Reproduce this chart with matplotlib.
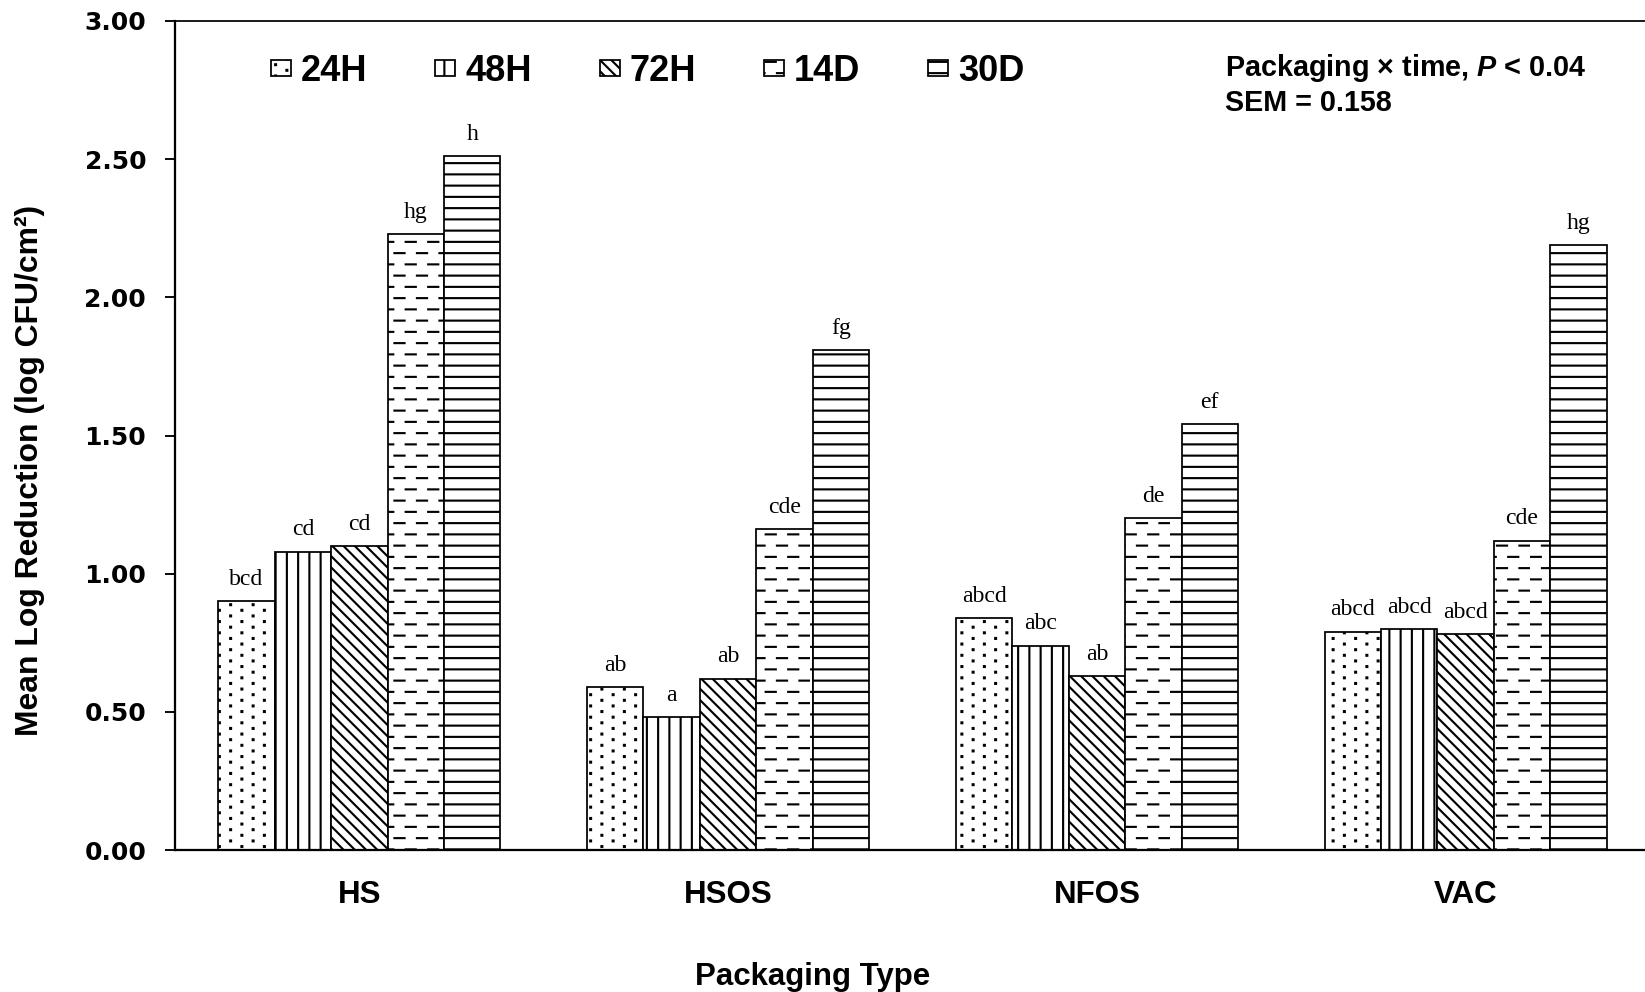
import warnings
import numpy as np
import matplotlib
matplotlib.use("Agg")
import matplotlib.pyplot as plt
from matplotlib import hatch as mhatch
from matplotlib.path import Path

warnings.filterwarnings("ignore", message=".*hatch must consist.*")

# data
packaging = ["HS", "HSOS", "NFOS", "VAC"]
times = ["24H", "48H", "72H", "14D", "30D"]
hs = [0.90, 1.08, 1.10, 2.23, 2.51]
hsos = [0.59, 0.48, 0.62, 1.16, 1.81]
nfos = [0.84, 0.74, 0.63, 1.20, 1.54]
vac = [0.79, 0.80, 0.78, 1.12, 2.19]
letters_hs = ["bcd", "cd", "cd", "hg", "h"]
letters_hsos = ["ab", "a", "ab", "cde", "fg"]
letters_nfos = ["abcd", "abc", "ab", "de", "ef"]
letters_vac = ["abcd", "abcd", "abcd", "cde", "hg"]
yticks = [0.0, 0.5, 1.0, 1.5, 2.0, 2.5, 3.0]


# extra hatch patterns: staggered dots (':') and staggered dashes ('_')
class DotRows(mhatch.HatchPatternBase):
    def __init__(self, hatch, density):
        self.rows = hatch.count(":") * density * 2
        self.cols = self.rows // 4
        self.num_vertices = self.rows * self.cols * 5

    def set_vertices_and_codes(self, vertices, codes):
        s = 0.005
        i = 0
        for r in range(self.rows):
            y = (r + 0.5) / self.rows
            shift = 0.5 if r % 2 else 0.0
            for c in range(self.cols):
                x = (c + shift + 0.25) / self.cols
                vertices[i:i + 5] = [[x - s, y - s], [x + s, y - s], [x + s, y + s],
                                     [x - s, y + s], [x - s, y - s]]
                codes[i:i + 5] = [Path.MOVETO, Path.LINETO, Path.LINETO,
                                  Path.LINETO, Path.CLOSEPOLY]
                i += 5


class DashRows(mhatch.HatchPatternBase):
    def __init__(self, hatch, density):
        self.rows = hatch.count("_") * density
        self.cols = self.rows // 2
        self.num_vertices = self.rows * self.cols * 2

    def set_vertices_and_codes(self, vertices, codes):
        dash = 0.45 / self.cols
        i = 0
        for r in range(self.rows):
            y = (r + 0.5) / self.rows
            shift = 0.5 if r % 2 else 0.0
            for c in range(self.cols):
                x0 = (c + shift + 0.03) / self.cols
                vertices[i] = [x0, y]
                vertices[i + 1] = [x0 + dash, y]
                codes[i] = Path.MOVETO
                codes[i + 1] = Path.LINETO
                i += 2


mhatch._hatch_types.extend([DotRows, DashRows])
_base_get_path = mhatch.get_path


def _get_path(pattern, density=6):
    return _base_get_path(pattern, 8)


mhatch.get_path = _get_path

plt.rcParams["font.family"] = "Liberation Sans"
plt.rcParams["font.weight"] = "bold"
plt.rcParams["hatch.linewidth"] = 1.7
plt.rcParams["mathtext.fontset"] = "custom"
plt.rcParams["mathtext.it"] = "Liberation Sans:italic:bold"
plt.rcParams["mathtext.rm"] = "Liberation Sans:bold"

DPI = 90
W, H = 1645, 992
fig = plt.figure(figsize=(W / DPI, H / DPI), dpi=DPI)
ax = fig.add_axes([175 / W, 1 - 850 / H, 1475 / W, 829 / H])

values = np.array([hs, hsos, nfos, vac])
letters = [letters_hs, letters_hsos, letters_nfos, letters_vac]
hatches = [":", "|", "\\\\", "_", "-"]
x = np.arange(len(packaging))
width = 0.153

for j, (t, h) in enumerate(zip(times, hatches)):
    bars = ax.bar(x + (j - 2) * width, values[:, j], width, color="white",
                  edgecolor="black", linewidth=1.4, hatch=h, label=t)
    ax.bar_label(bars, labels=[l[j] for l in letters], padding=9,
                 fontfamily="Liberation Serif", fontweight="normal", fontsize=19)

ax.set_xlim(-0.5, 3.5)
ax.set_ylim(0, 3)
ax.set_xticks(x)
ax.set_xticklabels(packaging, fontsize=25, fontweight="bold")
ax.set_yticks(yticks)
ax.set_yticklabels([f"{v:.2f}" for v in yticks], fontfamily="DejaVu Sans",
                   fontweight="bold", fontsize=20)
ax.tick_params(axis="x", length=0, pad=24)
ax.tick_params(axis="y", direction="out", length=8, width=1.5, pad=15)
ax.spines["right"].set_visible(False)
for s in ["left", "bottom"]:
    ax.spines[s].set_linewidth(1.8)
ax.spines["top"].set_linewidth(1.4)

ax.legend(ncol=5, loc="center left", bbox_to_anchor=(0.065, 0.939), frameon=False,
          prop={"family": "Liberation Sans", "weight": "bold", "size": 29},
          handlelength=0.55, handleheight=0.31, handletextpad=0.28,
          columnspacing=1.87, borderpad=0, borderaxespad=0)

fig.text(1225 / W, 1 - 68 / H, "Packaging \u00d7 time, $\\mathit{P}$ < 0.04",
         fontsize=23, fontweight="bold", ha="left", va="center")
fig.text(1225 / W, 1 - 103 / H, "SEM = 0.158",
         fontsize=23, fontweight="bold", ha="left", va="center")

fig.text(30 / W, 1 - 470 / H, "Mean Log Reduction (log CFU/cm\u00b2)", rotation=90,
         fontsize=25.5, fontweight="bold", ha="center", va="center")
fig.text(813 / W, 1 - 977 / H, "Packaging Type", fontsize=25, fontweight="bold",
         ha="center", va="center")

fig.savefig("out.png", dpi=DPI)
